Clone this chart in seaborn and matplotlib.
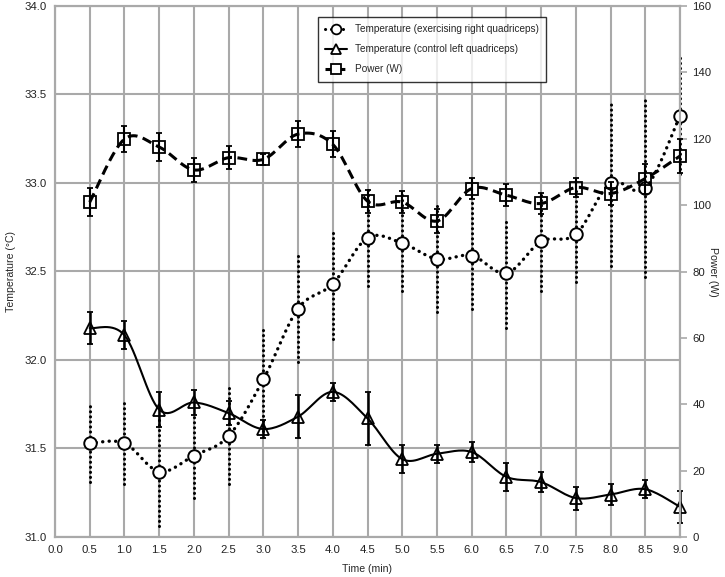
import numpy as np
import seaborn as sns
import matplotlib.pyplot as plt
from matplotlib.lines import Line2D

# values
time = [0.5, 1.0, 1.5, 2.0, 2.5, 3.0, 3.5, 4.0, 4.5, 5.0, 5.5, 6.0, 6.5, 7.0, 7.5, 8.0, 8.5, 9.0]

temp_ex = [31.53, 31.53, 31.37, 31.46, 31.57, 31.89, 32.29, 32.43, 32.69, 32.66,
           32.57, 32.59, 32.49, 32.67, 32.71, 33.00, 32.97, 33.38]
temp_ex_err = [0.22, 0.23, 0.31, 0.24, 0.27, 0.29, 0.30, 0.31, 0.27, 0.27,
               0.30, 0.30, 0.31, 0.28, 0.27, 0.47, 0.50, 0.33]

temp_ctrl = [32.18, 32.14, 31.72, 31.76, 31.70, 31.61, 31.68, 31.82, 31.67, 31.44,
             31.47, 31.48, 31.34, 31.31, 31.22, 31.24, 31.27, 31.17]
temp_ctrl_err = [0.09, 0.08, 0.10, 0.07, 0.07, 0.05, 0.12, 0.05, 0.15, 0.08,
                 0.05, 0.055, 0.08, 0.055, 0.065, 0.06, 0.05, 0.09]

power = [100.9, 119.9, 117.5, 110.6, 114.3, 113.8, 121.4, 118.3, 101.2, 100.9,
         95.2, 105.0, 103.0, 100.5, 105.3, 103.5, 108.0, 114.8]
power_err = [4.2, 4.0, 4.3, 3.6, 3.5, 1.7, 3.8, 3.9, 3.5, 3.3,
             3.5, 3.3, 3.3, 3.2, 3.0, 3.5, 4.5, 5.0]

labels = ["Temperature (exercising right quadriceps)",
          "Temperature (control left quadriceps)",
          "Power (W)"]


def smooth(x, y, n=16):
    # catmull-rom curve through the points (excel "smoothed line" look)
    x = np.asarray(x, float)
    y = np.asarray(y, float)
    px = np.concatenate([[x[0]], x, [x[-1]]])
    py = np.concatenate([[y[0]], y, [y[-1]]])
    t = np.linspace(0, 1, n, endpoint=False)
    sx, sy = [], []
    for i in range(1, len(px) - 2):
        for p, out in ((px, sx), (py, sy)):
            p0, p1, p2, p3 = p[i - 1], p[i], p[i + 1], p[i + 2]
            out.extend(0.5 * (2 * p1 + (-p0 + p2) * t
                              + (2 * p0 - 5 * p1 + 4 * p2 - p3) * t ** 2
                              + (-p0 + 3 * p1 - 3 * p2 + p3) * t ** 3))
    sx.append(x[-1])
    sy.append(y[-1])
    return np.array(sx), np.array(sy)


def unclip(eb):
    for art in [eb[0], *eb[1], *eb[2]]:
        art.set_clip_on(False)


sns.set_style("white")
plt.rcParams['font.family'] = ['Liberation Sans', 'DejaVu Sans']

fig = plt.figure(figsize=(7.25, 5.77), dpi=100)
ax = fig.add_axes([55 / 725, 40 / 577, 625 / 725, 531 / 577])
ax2 = ax.twinx()

grid_c = "#a9a9a9"

# exercising leg - dotted
sx, sy = smooth(time, temp_ex)
sns.lineplot(x=sx, y=sy, ax=ax, color="black", sort=False, estimator=None, linewidth=2.4)
ln = ax.lines[-1]
ln.set_dashes((0.05, 1.9))
ln.set_dash_capstyle("round")
eb = ax.errorbar(time, temp_ex, yerr=temp_ex_err, fmt="o", ms=9, mfc="white", mec="black",
                 mew=1.4, ecolor="black", elinewidth=2.2, capsize=0, zorder=4)
eb[2][0].set_linestyle((0, (0.05, 1.6)))
eb[2][0].set_capstyle("round")
unclip(eb)

# control leg - solid
sx, sy = smooth(time, temp_ctrl)
sns.lineplot(x=sx, y=sy, ax=ax, color="black", sort=False, estimator=None, linewidth=1.5)
eb = ax.errorbar(time, temp_ctrl, yerr=temp_ctrl_err, fmt="^", ms=8, mfc="none", mec="black",
                 mew=1.3, ecolor="black", elinewidth=1.8, capsize=2.5, capthick=1.5, zorder=4)
unclip(eb)

# power - dashed
sx, sy = smooth(time, power)
sns.lineplot(x=sx, y=sy, ax=ax2, color="black", sort=False, estimator=None, linewidth=2.2)
ax2.lines[-1].set_dashes((3.2, 1.8))
eb = ax2.errorbar(time, power, yerr=power_err, fmt="s", ms=9, mfc="none", mec="black",
                  mew=1.3, ecolor="black", elinewidth=1.5, capsize=2.5, capthick=1.4, zorder=4)
unclip(eb)

ax.set_xlim(0, 9)
ax.set_ylim(31, 34)
ax2.set_ylim(0, 160)
ax.set_xticks(np.arange(0, 9.01, 0.5))
ax.set_xticklabels([f"{v:.1f}" for v in np.arange(0, 9.01, 0.5)])
ax.set_yticks(np.arange(31, 34.01, 0.5))
ax.set_yticklabels([f"{v:.1f}" for v in np.arange(31, 34.01, 0.5)])
ax2.set_yticks(np.arange(0, 161, 20))

ax.grid(True, color=grid_c, linewidth=1.5)
ax.set_axisbelow(True)
ax2.grid(False)
for a in (ax, ax2):
    for s in a.spines.values():
        s.set_color(grid_c)
        s.set_linewidth(1.5)

ax.tick_params(axis="both", length=0, labelsize=8.2, colors="#222222", pad=6)
ax2.tick_params(axis="y", length=5, width=1.2, color=grid_c, labelsize=8.2,
                labelcolor="#222222", pad=4)

ax.set_xlabel("Time (min)", fontsize=7.6)
ax.set_ylabel("Temperature (°C)", fontsize=7.6, va="center")
ax2.set_ylabel("Power (W)", fontsize=7.6, rotation=270, va="center")
ax.xaxis.set_label_coords(0.5, -0.05)
ax.yaxis.set_label_coords(-0.07, 0.5)
ax2.yaxis.set_label_coords(1.053, 0.5)

handles = [
    Line2D([], [], color="black", linewidth=2.2, dashes=(0.05, 1.9), dash_capstyle="round",
           marker="o", ms=7, mfc="white", mec="black", mew=1.3),
    Line2D([], [], color="black", linewidth=1.5, marker="^", ms=7, mfc="white", mec="black", mew=1.3),
    Line2D([], [], color="black", linewidth=2.2, dashes=(2.5, 1.5),
           marker="s", ms=7, mfc="white", mec="black", mew=1.3),
]
leg = ax.legend(handles, labels, loc="upper left", bbox_to_anchor=(0.42, 0.98),
                borderaxespad=0, fontsize=7.2, frameon=True, fancybox=False, edgecolor="black",
                handlelength=2.2, labelspacing=1.0, borderpad=0.75, handletextpad=0.8)
leg.get_frame().set_linewidth(1.0)
leg.set_zorder(10)

fig.savefig("out.png", dpi=100)
